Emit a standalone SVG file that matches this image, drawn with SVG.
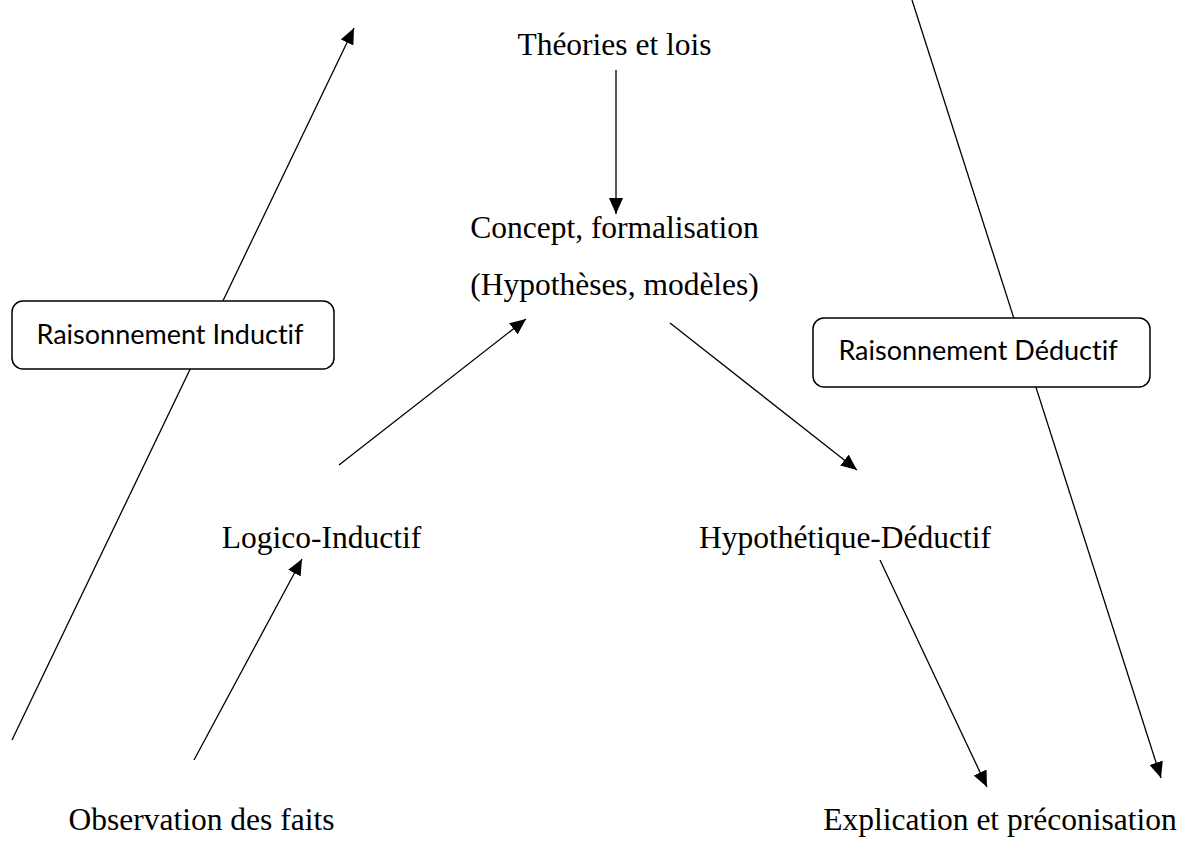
<svg xmlns="http://www.w3.org/2000/svg" width="1184" height="852" viewBox="0 0 1184 852">
  <style>
    .lbl { font-family: "Liberation Serif", "Times New Roman", serif; font-size: 31.5px; fill: #000; text-anchor: middle; }
    .box { fill: #fff; stroke: #000; stroke-width: 1.5; }
    .boxlbl { font-family: Lato, "Liberation Sans", sans-serif; font-size: 27px; fill: #000; text-anchor: middle; font-variant-ligatures: none; }
    .conn { stroke: #000; stroke-width: 1.3; fill: none; marker-end: url(#arrow); }
  </style>
  <defs>
    <marker id="arrow" markerUnits="userSpaceOnUse" markerWidth="17" markerHeight="14" refX="16" refY="7" orient="auto">
      <path d="M0,0 L16,7 L0,14 z" fill="#000"/>
    </marker>
  </defs>

  <!-- connectors (drawn first so the labelled boxes sit on top of the long lines) -->
  <g id="connectors">
    <line class="conn" x1="12" y1="740" x2="354" y2="28"/>
    <line class="conn" x1="912" y1="0" x2="1161" y2="778"/>
    <line class="conn" x1="616" y1="70" x2="616" y2="214"/>
    <line class="conn" x1="339" y1="465" x2="526" y2="319"/>
    <line class="conn" x1="670" y1="323" x2="857" y2="470"/>
    <line class="conn" x1="194" y1="760" x2="302" y2="559"/>
    <line class="conn" x1="880" y1="560" x2="987" y2="787"/>
  </g>

  <g id="theories">
    <text class="lbl" x="614.5" y="55">Théories et lois</text>
  </g>
  <g id="concept">
    <text class="lbl" x="614.5" y="238">Concept, formalisation</text>
    <text class="lbl" x="614.5" y="295">(Hypothèses, modèles)</text>
  </g>
  <g id="logico-inductif">
    <text class="lbl" x="321.5" y="548">Logico-Inductif</text>
  </g>
  <g id="hypothetique-deductif">
    <text class="lbl" x="845" y="548">Hypothétique-Déductif</text>
  </g>
  <g id="observation">
    <text class="lbl" x="201.5" y="830">Observation des faits</text>
  </g>
  <g id="explication">
    <text class="lbl" x="1000" y="830">Explication et préconisation</text>
  </g>
  <g id="raisonnement-inductif">
    <rect class="box" x="12" y="301" width="322" height="68" rx="11"/>
    <text class="boxlbl" x="170" y="344">Raisonnement Inductif</text>
  </g>
  <g id="raisonnement-deductif">
    <rect class="box" x="813" y="318" width="337" height="69" rx="11"/>
    <text class="boxlbl" x="978" y="360">Raisonnement Déductif</text>
  </g>
</svg>
